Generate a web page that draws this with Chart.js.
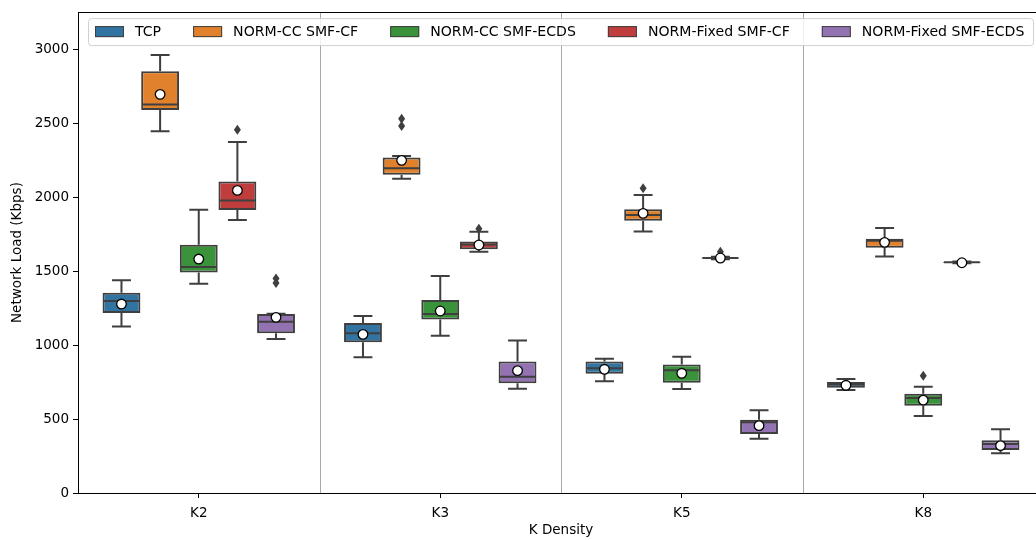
<!DOCTYPE html>
<html>
<head>
<meta charset="utf-8">
<script src="https://cdn.jsdelivr.net/npm/chart.js@4"></script>
<style>
  html, body { margin: 0; padding: 0; background: #fff; overflow: hidden; }
  #wrap { width: 1046px; height: 540px; }
</style>
</head>
<body>
<div id="wrap"><canvas id="grafik" width="1046" height="540"></canvas></div>
<script>
// Kategori dan nama seri
const categories = ["K2", "K3", "K5", "K8"];
const seriesNames = ["TCP", "NORM-CC SMF-CF", "NORM-CC SMF-ECDS", "NORM-Fixed SMF-CF", "NORM-Fixed SMF-ECDS"];
const yTicks = [0, 500, 1000, 1500, 2000, 2500, 3000];

// [bawah, Q1, median, Q3, atas] per kategori
const tcpBox = [[1126, 1216, 1297, 1354, 1437], [917, 1018, 1079, 1149, 1196], [755, 806, 843, 888, 907], [696, 711, 734, 750, 770]];
const ccCfBox = [[2444, 2588, 2626, 2851, 2960], [2124, 2151, 2194, 2268, 2277], [1768, 1840, 1878, 1917, 2014], [1598, 1658, 1705, 1719, 1791]];
const ccEcdsBox = [[1414, 1491, 1527, 1678, 1914], [1063, 1173, 1209, 1304, 1466], [703, 745, 829, 869, 921], [520, 590, 642, 671, 718]];
const fixCfBox = [[1845, 1912, 1977, 2106, 2372], [1631, 1647, 1680, 1699, 1766], [1580, 1584, 1588, 1592, 1596], [1552, 1556, 1559, 1561, 1564]];
const fixEcdsBox = [[1041, 1079, 1158, 1209, 1212], [705, 741, 786, 888, 1030], [367, 399, 478, 495, 559], [268, 291, 331, 356, 430]];

// Rata-rata
const tcpMean = [1277, 1072, 836, 728];
const ccCfMean = [2694, 2248, 1890, 1694];
const ccEcdsMean = [1581, 1230, 809, 628];
const fixCfMean = [2045, 1676, 1588, 1556];
const fixEcdsMean = [1187, 827, 455, 320];

// Pencilan
const tcpOut = [[], [], [], []];
const ccCfOut = [[], [2480, 2530], [2059], []];
const ccEcdsOut = [[], [], [], [793]];
const fixCfOut = [[2455], [1785], [1630], []];
const fixEcdsOut = [[1420, 1450], [], [], []];

const boxes = [tcpBox, ccCfBox, ccEcdsBox, fixCfBox, fixEcdsBox];
const means = [tcpMean, ccCfMean, ccEcdsMean, fixCfMean, fixEcdsMean];
const outliers = [tcpOut, ccCfOut, ccEcdsOut, fixCfOut, fixEcdsOut];

const colors = ["#3274a1", "#e1812c", "#3a923a", "#c03d3e", "#9372b2"];
const edge = "#3f3f3f";
const FONT = "DejaVu Sans";

// Garis pemisah antar kategori + bingkai
const separatorPlugin = {
    id: "separator",
    beforeDatasetsDraw(chart) {
        const { ctx, chartArea: a, scales: { x } } = chart;
        ctx.save();
        ctx.strokeStyle = "#a8a8a8";
        ctx.lineWidth = 1;
        for (let i = 0; i < categories.length - 1; i++) {
            const px = Math.round((x.getPixelForTick(i) + x.getPixelForTick(i + 1)) / 2) + 0.5;
            ctx.beginPath();
            ctx.moveTo(px, a.top);
            ctx.lineTo(px, a.bottom);
            ctx.stroke();
        }
        ctx.restore();
    },
    afterDraw(chart) {
        const { ctx, chartArea: a } = chart;
        ctx.save();
        ctx.strokeStyle = "#000";
        ctx.lineWidth = 1;
        ctx.strokeRect(Math.round(a.left) + 0.5, Math.round(a.top) + 0.5, Math.round(a.right - a.left), Math.round(a.bottom - a.top));
        ctx.restore();
    }
};

// Kumis, median, rata-rata, pencilan
const boxPlugin = {
    id: "boxplot",
    afterDatasetsDraw(chart) {
        const ctx = chart.ctx;
        const y = chart.scales.y;
        ctx.save();
        chart.data.datasets.forEach((ds, di) => {
            const meta = chart.getDatasetMeta(di);
            meta.data.forEach((bar, i) => {
                const [lo, q1, med, q3, hi] = boxes[di][i];
                const x = bar.x;
                const w = bar.width;
                ctx.strokeStyle = edge;
                ctx.lineWidth = 2;
                ctx.beginPath();
                // kumis atas
                ctx.moveTo(x, y.getPixelForValue(q3));
                ctx.lineTo(x, y.getPixelForValue(hi));
                ctx.moveTo(x - w / 4, y.getPixelForValue(hi));
                ctx.lineTo(x + w / 4, y.getPixelForValue(hi));
                // kumis bawah
                ctx.moveTo(x, y.getPixelForValue(q1));
                ctx.lineTo(x, y.getPixelForValue(lo));
                ctx.moveTo(x - w / 4, y.getPixelForValue(lo));
                ctx.lineTo(x + w / 4, y.getPixelForValue(lo));
                // median
                ctx.moveTo(x - w / 2 + 1, y.getPixelForValue(med));
                ctx.lineTo(x + w / 2 - 1, y.getPixelForValue(med));
                ctx.stroke();

                // pencilan (diamond tipis)
                ctx.fillStyle = edge;
                outliers[di][i].forEach(v => {
                    const py = y.getPixelForValue(v);
                    ctx.beginPath();
                    ctx.moveTo(x, py - 5);
                    ctx.lineTo(x + 3.5, py);
                    ctx.lineTo(x, py + 5);
                    ctx.lineTo(x - 3.5, py);
                    ctx.closePath();
                    ctx.fill();
                });

                // rata-rata
                ctx.beginPath();
                ctx.arc(x, y.getPixelForValue(means[di][i]), 4.8, 0, Math.PI * 2);
                ctx.fillStyle = "#fff";
                ctx.fill();
                ctx.lineWidth = 1.3;
                ctx.strokeStyle = "#000";
                ctx.stroke();
            });
        });
        ctx.restore();
    }
};

// Legenda di dalam area plot
const legendPlugin = {
    id: "legendInside",
    afterDraw(chart) {
        const ctx = chart.ctx;
        const a = chart.chartArea;
        const left = a.left + 10, top = a.top + 6, h = 27;
        ctx.save();
        ctx.font = "14.1px '" + FONT + "'";
        const widths = seriesNames.map(n => ctx.measureText(n).width);
        const right = 1033;
        ctx.fillStyle = "rgba(255,255,255,0.8)";
        ctx.strokeStyle = "#d0d0d0";
        ctx.lineWidth = 1;
        ctx.beginPath();
        ctx.roundRect(left + 0.5, top + 0.5, right - left, h, 3);
        ctx.fill();
        ctx.stroke();
        let px = left + 7;
        const cy = top + h / 2;
        seriesNames.forEach((n, i) => {
            ctx.fillStyle = colors[i];
            ctx.fillRect(px, cy - 5.5, 29, 11);
            ctx.strokeStyle = edge;
            ctx.lineWidth = 1;
            ctx.strokeRect(px + 0.5, cy - 5, 28, 10);
            ctx.fillStyle = "#000";
            ctx.textBaseline = "middle";
            ctx.fillText(n, px + 40, cy + 0.5);
            px += 40 + widths[i] + 32;
        });
        ctx.restore();
    }
};

const datasets = seriesNames.map((name, di) => ({
    label: name,
    data: boxes[di].map(b => [b[1], b[3]]),
    backgroundColor: colors[di],
    borderColor: edge,
    borderWidth: 2,
    borderSkipped: false,
    categoryPercentage: 0.8,
    barPercentage: 0.98
}));

const chart = new Chart(document.getElementById("grafik").getContext("2d"), {
    type: "bar",
    data: { labels: categories, datasets: datasets },
    options: {
        responsive: false,
        animation: false,
        events: [],
        layout: { padding: { top: 12, right: 2, left: 0, bottom: 0 } },
        plugins: { legend: { display: false }, tooltip: { enabled: false } },
        scales: {
            x: {
                offset: true,
                grid: { display: true, drawOnChartArea: false, offset: false, color: "#000", tickLength: 5 },
                border: { color: "#000" },
                ticks: { color: "#000", font: { family: FONT, size: 13.5 }, padding: 7 },
                title: { display: true, text: "K Density", color: "#000", font: { family: FONT, size: 13.5 }, padding: { top: 0, bottom: 1 } },
                afterFit(scale) { scale.height = 47; }
            },
            y: {
                min: 0,
                max: 3250,
                afterBuildTicks(scale) { scale.ticks = yTicks.map(v => ({ value: v })); },
                grid: { display: true, drawOnChartArea: false, color: "#000", tickLength: 5 },
                border: { color: "#000" },
                ticks: { color: "#000", font: { family: FONT, size: 13.5 }, padding: 4, callback: v => String(v) },
                title: { display: true, text: "Network Load (Kbps)", color: "#000", font: { family: FONT, size: 13.5 }, padding: { top: 9, bottom: 4 } },
                afterFit(scale) { scale.width = 78; }
            }
        }
    },
    plugins: [separatorPlugin, boxPlugin, legendPlugin]
});
</script>
</body>
</html>
